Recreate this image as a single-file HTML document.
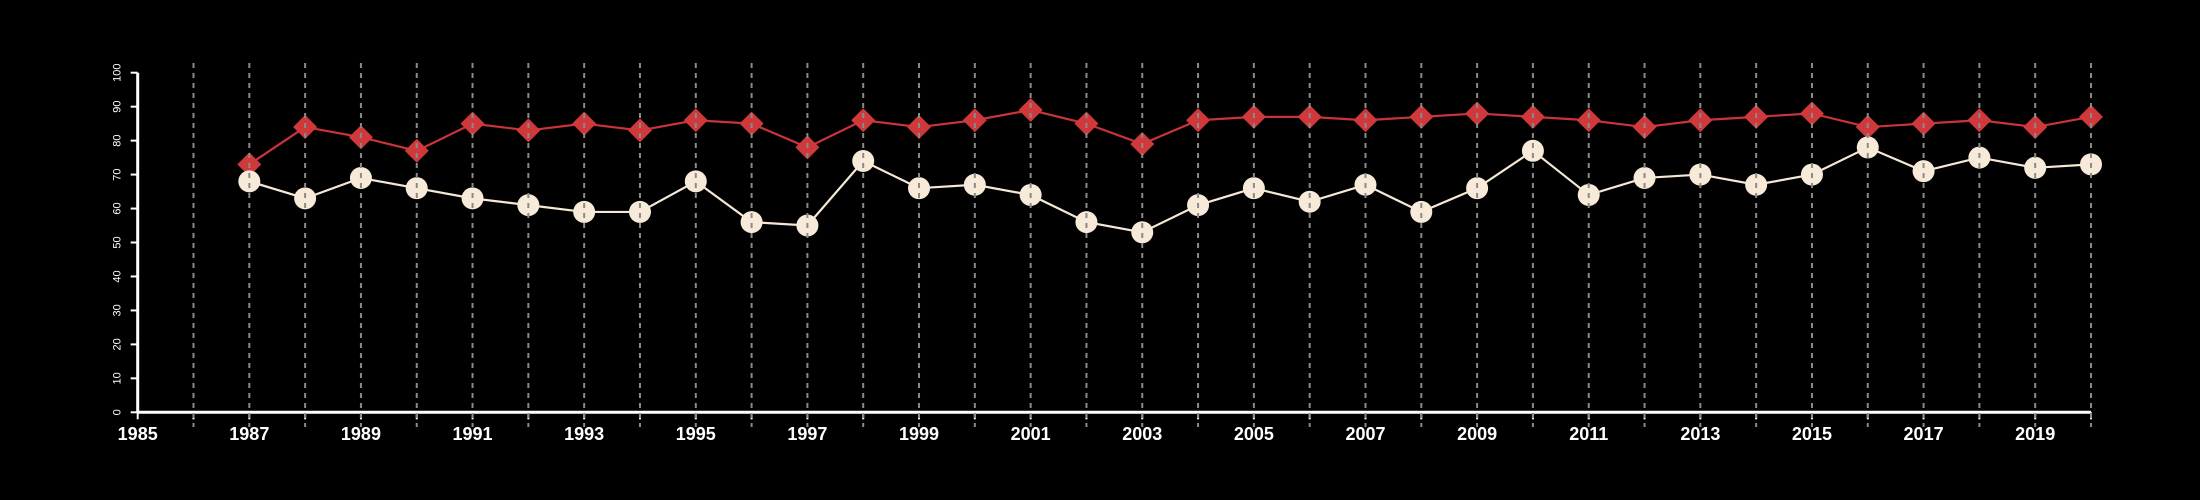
<!DOCTYPE html>
<html><head><meta charset="utf-8"><style>
html,body{margin:0;padding:0;background:#000;}
svg{display:block;font-family:"Liberation Sans",sans-serif;}
</style></head><body>
<svg id="chart" width="2200" height="500" viewBox="0 0 2200 500" xmlns="http://www.w3.org/2000/svg">
<rect width="2200" height="500" fill="#000"/>
</svg>
<script>
const years = [1987,1988,1989,1990,1991,1992,1993,1994,1995,1996,1997,1998,1999,2000,2001,2002,2003,2004,2005,2006,2007,2008,2009,2010,2011,2012,2013,2014,2015,2016,2017,2018,2019,2020];
const redSeries = [73,84,81,77,85,83,85,83,86,85,78,86,84,86,89,85,79,86,87,87,86,87,88,87,86,84,86,87,88,84,85,86,84,87];
const creamSeries = [68,63,69,66,63,61,59,59,68,56,55,74,66,67,64,56,53,61,66,62,67,59,66,77,64,69,70,67,70,78,71,75,72,73];
const yTicks = [0,10,20,30,40,50,60,70,80,90,100];
const xLabelYears = [1985,1987,1989,1991,1993,1995,1997,1999,2001,2003,2005,2007,2009,2011,2013,2015,2017,2019];

const NS="http://www.w3.org/2000/svg";
const svg=document.getElementById('chart');
const x0=137.7, x1=2091, yr0=1985, yr1=2020;
const yBase=412.3, yTop=72.7;
const X=v=>x0+(v-yr0)*(x1-x0)/(yr1-yr0);
const Y=v=>yBase-(v)*(yBase-yTop)/100;
function mk(tag,attrs){const e=document.createElementNS(NS,tag);for(const k in attrs)e.setAttribute(k,attrs[k]);svg.appendChild(e);return e;}

// axes
let e=mk('line',{x1:x0,y1:yBase,x2:x1,y2:yBase,stroke:'#fff','stroke-width':3});


e=mk('line',{x1:x0,y1:yBase,x2:x0,y2:Y(100),stroke:'#fff','stroke-width':3});


yTicks.forEach(t=>{
  let l=mk('line',{x1:x0-7,y1:Y(t),x2:x0,y2:Y(t),stroke:'#fff','stroke-width':2});
  
  
  let tx=mk('text',{x:0,y:0,fill:'#fff','font-size':11,'text-anchor':'middle',transform:`translate(${x0-20},${Y(t)}) rotate(-90)`,'dominant-baseline':'middle'});
  tx.textContent=t;
  
  
});
for(let yr=yr0;yr<=yr1;yr++){
  let l=mk('line',{x1:X(yr),y1:yBase,x2:X(yr),y2:yBase+7,stroke:'#fff','stroke-width':2});
  
  
}
xLabelYears.forEach(yr=>{
  let tx=mk('text',{x:X(yr),y:440,fill:'#fff','font-size':18,'font-weight':'bold','text-anchor':'middle'});
  tx.textContent=yr;
  
  
});

// lines
function poly(vals,color,name){
  const p=mk('polyline',{points:vals.map((v,i)=>X(years[i])+','+Y(v)).join(' '),fill:'none',stroke:color,'stroke-width':2.2});
  
  
}
poly(redSeries,'#c9343a','red-series-line');
poly(creamSeries,'#f6e8d6','cream-series-line');
redSeries.forEach((v,i)=>{
  const cx=X(years[i]),cy=Y(v),r=12;
  const d=mk('polygon',{points:`${cx},${cy-r} ${cx+r},${cy} ${cx},${cy+r} ${cx-r},${cy}`,fill:'#d0393c'});
  
  
});
creamSeries.forEach((v,i)=>{
  const c=mk('circle',{cx:X(years[i]),cy:Y(v),r:11,fill:'#f8ead8'});
  
  
});
// dashed gridlines on top
for(let yr=yr0+1;yr<=yr1;yr++){
  const g=mk('line',{x1:X(yr),y1:63,x2:X(yr),y2:427,stroke:'#8a8a8a','stroke-width':2,'stroke-dasharray':'5,5'});
  
  
}
</script>
</body></html>
